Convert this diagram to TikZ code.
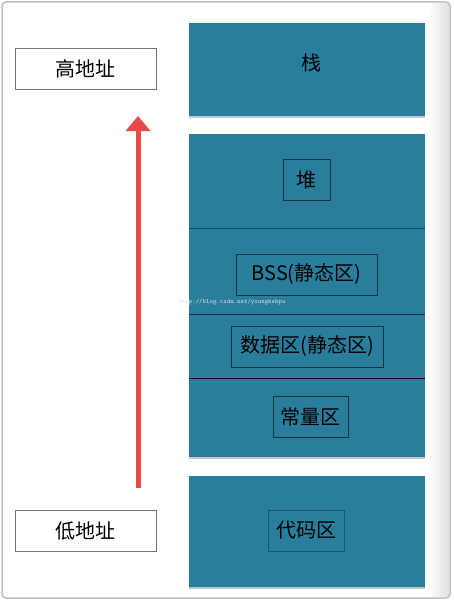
\documentclass[tikz,border=0pt]{standalone}
\usepackage{fontspec}
\setmainfont{Liberation Sans}
\newfontfamily\cjk{Noto Sans CJK SC}
\usetikzlibrary{arrows.meta,shadows}
\definecolor{segblue}{RGB}{40,126,156}
\definecolor{arrowred}{RGB}{232,72,72}
\definecolor{boxline}{RGB}{22,52,64}

\begin{document}
\begin{tikzpicture}[x=1pt,y=-1pt,
		seg/.style={fill=segblue,draw=none,inner sep=0pt,
			drop shadow={opacity=0.45,shadow xshift=0pt,shadow yshift=-2pt}},
		lbl/.style={draw=boxline,line width=0.7pt,inner sep=0pt,minimum height=41pt,
			font=\cjk\fontsize{20}{24}\selectfont},
		addr/.style={draw=black!55,fill=white,line width=0.6pt,minimum width=141pt,
			minimum height=41pt,font=\cjk\fontsize{20}{24}\selectfont},
		divider/.style={draw=boxline,line width=0.7pt}]
		%%%%% START %%%%%
		
		\useasboundingbox (0,0) rectangle (454,602);
		\shade[left color=white, right color=black!12] (428,4) rectangle (449,596);
		\draw[rounded corners=4pt, draw=black!25, line width=1.5pt] (2,2) rectangle (450,598);
		
		\node[addr] (high) at (85.5,68.5) {高地址};
		\node[addr] (low) at (85.5,530.5) {低地址};
		
		\node[seg, minimum width=236pt, minimum height=93pt] (stack) at (307,69.5) {};
		\node[font=\cjk\fontsize{20}{24}\selectfont] (stacktxt) at (311,63) {栈};
		
		\node[seg, minimum width=236pt, minimum height=323pt] (mem) at (307,295.5) {};
		\draw[divider, draw=boxline!70!segblue] (189,228) -- (425,228);
		\draw[divider] (189,314) -- (425,314);
		\draw[divider, draw=black] (189,378) -- (425,378);
		
		\node[seg, minimum width=236pt, minimum height=111pt] (code) at (307,531.5) {};
		
		\node[lbl, minimum width=47pt] (heap) at (306.5,179.5) {堆};
		\node[lbl, minimum width=141pt] (bss) at (306.5,274.5) {BSS(静态区)};
		\node[lbl, minimum width=152pt] (data) at (307,346.5) {数据区(静态区)};
		\node[lbl, minimum width=75pt] (const) at (310.5,416.5) {常量区};
		\node[lbl, minimum width=76pt, draw=boxline!60!segblue] (codetxt) at (306,530.5) {代码区};
		
		\node[text=black!12, font=\ttfamily\fontsize{6.5}{8}\selectfont] (mark) at (232,302) {http://blog.csdn.net/youngkehpu};
		
		\coordinate (tail) at (138,488);
		\coordinate (tip) at (138,116);
		\draw[arrowred, line width=5pt, -{Triangle[length=15pt,width=24pt]}] (tail) -- (tip);
		
		%%%%% END %%%%%
\end{tikzpicture}
\end{document}
